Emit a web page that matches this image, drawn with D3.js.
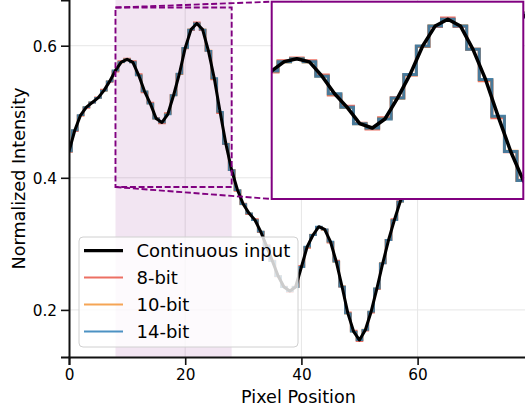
<!DOCTYPE html>
<html>
<head>
<meta charset="utf-8">
<script src="https://cdn.jsdelivr.net/npm/d3@7"></script>
<style>
  body { margin: 0; background: #fff; }
  text { font-family: "DejaVu Sans", sans-serif; fill: #000; }
</style>
</head>
<body>
<svg id="chart" width="525" height="412"></svg>
<script>
// ---- data ---------------------------------------------------------------
// Pixel positions along the 1-D profile
const pixelPosition = d3.range(0, 80);

// Continuous (analog) intensity sampled at each pixel
const continuousInput = [
  0.4400, 0.4720, 0.4950, 0.5070, 0.5140, 0.5210, 0.5320, 0.5460, 0.5625, 0.5752,
  0.5793, 0.5749, 0.5552, 0.5309, 0.5123, 0.4898, 0.4838, 0.4962, 0.5250, 0.5576,
  0.5967, 0.6244, 0.6337, 0.6244, 0.5922, 0.5507, 0.4999, 0.4514, 0.4115, 0.3815,
  0.3600, 0.3462, 0.3361, 0.3184, 0.2967, 0.2740, 0.2513, 0.2347, 0.2286, 0.2347,
  0.2650, 0.2957, 0.3134, 0.3260, 0.3220, 0.3033, 0.2730, 0.2351, 0.1948, 0.1670,
  0.1544, 0.1696, 0.1973, 0.2327, 0.2706, 0.3058, 0.3361, 0.3638, 0.3880, 0.4100,
  0.4300, 0.4480, 0.4630, 0.4740, 0.4820, 0.4880, 0.4940, 0.5020, 0.5120, 0.5250,
  0.5400, 0.5550, 0.5700, 0.5850, 0.6000, 0.6130, 0.6240, 0.6340, 0.6420, 0.6500
];

// Digitised codes for each converter depth
const codes8bit = [
  112, 120, 126, 129, 131, 133, 136, 139, 143, 147,
  148, 147, 142, 135, 131, 125, 123, 127, 134, 142,
  152, 159, 162, 159, 151, 140, 127, 115, 105, 97,
  92, 88, 86, 81, 76, 70, 64, 60, 58, 60,
  68, 75, 80, 83, 82, 77, 70, 60, 50, 43,
  39, 43, 50, 59, 69, 78, 86, 93, 99, 105,
  110, 114, 118, 121, 123, 124, 126, 128, 131, 134,
  138, 142, 145, 149, 153, 156, 159, 162, 164, 166
];
const codes10bit = [
  450, 483, 506, 519, 526, 533, 544, 559, 575, 588,
  593, 588, 568, 543, 524, 501, 495, 508, 537, 570,
  610, 639, 648, 639, 606, 563, 511, 462, 421, 390,
  368, 354, 344, 326, 304, 280, 257, 240, 234, 240,
  271, 302, 321, 333, 329, 310, 279, 241, 199, 171,
  158, 174, 202, 238, 277, 313, 344, 372, 397, 419,
  440, 458, 474, 485, 493, 499, 505, 514, 524, 537,
  552, 568, 583, 598, 614, 627, 638, 649, 657, 665
];
const codes14bit = [
  7209, 7733, 8110, 8306, 8421, 8536, 8716, 8945, 9215, 9424,
  9491, 9419, 9096, 8698, 8393, 8024, 7926, 8129, 8601, 9135,
  9776, 10230, 10382, 10230, 9702, 9022, 8190, 7395, 6742, 6250,
  5898, 5672, 5506, 5216, 4861, 4489, 4117, 3845, 3745, 3845,
  4341, 4844, 5134, 5341, 5275, 4969, 4473, 3852, 3191, 2736,
  2530, 2779, 3232, 3812, 4433, 5010, 5506, 5960, 6357, 6717,
  7045, 7340, 7585, 7766, 7897, 7995, 8093, 8224, 8388, 8601,
  8847, 9093, 9338, 9584, 9830, 10043, 10223, 10387, 10518, 10649
];

const seriesLabels = ["Continuous input", "8-bit", "10-bit", "14-bit"];
const bitDepths = [8, 10, 14];
const xTicks = [0, 20, 40, 60];
const yTicks = [0.2, 0.4, 0.6];
const xDomain = [0, 79];
const yDomain = [0.1287, 0.6692];
const zoomX = [8, 28];
const zoomY = [0.386, 0.6578];

// ---- styling ------------------------------------------------------------
const stepColors = ["#e74c3c", "#f28e2b", "#1f77b4"];
const purple = "#800080";
const font = '"DejaVu Sans", sans-serif';

// ---- layout -------------------------------------------------------------
const svg = d3.select("#chart");
const plot = { left: 69, right: 528, top: 0, bottom: 357 };
const inset = { left: 271.7, right: 523.3, top: 1.7, bottom: 199 };

const x = d3.scaleLinear(xDomain, [plot.left, plot.right]);
const y = d3.scaleLinear(yDomain, [plot.bottom, plot.top]);
const xi = d3.scaleLinear(zoomX, [inset.left, inset.right]);
const yi = d3.scaleLinear(zoomY, [inset.bottom, inset.top]);

const quantised = [codes8bit, codes10bit, codes14bit].map((codes, i) =>
  codes.map(c => c / (Math.pow(2, bitDepths[i]) - 1)));

const defs = svg.append("defs");
defs.append("clipPath").attr("id", "clip-main").append("rect")
  .attr("x", plot.left).attr("y", plot.top)
  .attr("width", plot.right - plot.left).attr("height", plot.bottom - plot.top);
defs.append("clipPath").attr("id", "clip-inset").append("rect")
  .attr("x", inset.left).attr("y", inset.top)
  .attr("width", inset.right - inset.left).attr("height", inset.bottom - inset.top);

// ---- grid ---------------------------------------------------------------
const grid = svg.append("g").attr("clip-path", "url(#clip-main)");
grid.selectAll("line.gx").data(xTicks).join("line")
  .attr("x1", d => x(d)).attr("x2", d => x(d))
  .attr("y1", plot.top).attr("y2", plot.bottom)
  .attr("stroke", "#e6e6e6").attr("stroke-width", 1);
grid.selectAll("line.gy").data(yTicks).join("line")
  .attr("x1", plot.left).attr("x2", plot.right)
  .attr("y1", d => y(d)).attr("y2", d => y(d))
  .attr("stroke", "#e6e6e6").attr("stroke-width", 1);

// ---- zoom window shading -------------------------------------------------
svg.append("rect")
  .attr("x", x(zoomX[0])).attr("y", plot.top)
  .attr("width", x(zoomX[1]) - x(zoomX[0])).attr("height", plot.bottom - plot.top)
  .attr("fill", purple).attr("fill-opacity", 0.1);

// ---- series drawing helper ----------------------------------------------
function drawSeries(g, sx, sy, stepWidth, curveWidth) {
  quantised.forEach((vals, i) => {
    const line = d3.line()
      .x((d, j) => sx(pixelPosition[j]))
      .y(d => sy(d))
      .curve(d3.curveStep);
    g.append("path").datum(vals)
      .attr("d", line)
      .attr("fill", "none")
      .attr("stroke", stepColors[i])
      .attr("stroke-opacity", 0.8)
      .attr("stroke-width", stepWidth);
  });
  const cont = d3.line()
    .x((d, j) => sx(pixelPosition[j]))
    .y(d => sy(d));
  g.append("path").datum(continuousInput)
    .attr("d", cont)
    .attr("fill", "none")
    .attr("stroke", "#000")
    .attr("stroke-width", curveWidth)
    .attr("stroke-linejoin", "round");
}

// main panel
const main = svg.append("g").attr("clip-path", "url(#clip-main)");
drawSeries(main, x, y, 1.8, 3);

// dashed zoom window outline and connectors
const dash = "6,2.7";
const dashWidth = 1.9;
svg.append("rect")
  .attr("x", x(zoomX[0])).attr("y", y(zoomY[1]))
  .attr("width", x(zoomX[1]) - x(zoomX[0]))
  .attr("height", y(zoomY[0]) - y(zoomY[1]))
  .attr("fill", "none").attr("stroke", purple)
  .attr("stroke-width", dashWidth).attr("stroke-dasharray", dash);
svg.append("line")
  .attr("x1", x(zoomX[0])).attr("y1", y(zoomY[1]))
  .attr("x2", inset.left).attr("y2", inset.top)
  .attr("stroke", purple).attr("stroke-width", dashWidth).attr("stroke-dasharray", dash);
svg.append("line")
  .attr("x1", x(zoomX[0])).attr("y1", y(zoomY[0]))
  .attr("x2", inset.left).attr("y2", inset.bottom)
  .attr("stroke", purple).attr("stroke-width", dashWidth).attr("stroke-dasharray", dash);

// ---- inset ---------------------------------------------------------------
svg.append("rect")
  .attr("x", inset.left).attr("y", inset.top)
  .attr("width", inset.right - inset.left).attr("height", inset.bottom - inset.top)
  .attr("fill", "#fff");
const insetG = svg.append("g").attr("clip-path", "url(#clip-inset)");
drawSeries(insetG, xi, yi, 3, 3.5);
svg.append("rect")
  .attr("x", inset.left).attr("y", inset.top)
  .attr("width", inset.right - inset.left).attr("height", inset.bottom - inset.top)
  .attr("fill", "none").attr("stroke", purple).attr("stroke-width", 2);

// ---- axes ---------------------------------------------------------------
const xAxis = svg.append("g")
  .attr("transform", `translate(0,${plot.bottom})`)
  .call(d3.axisBottom(x).tickValues(xTicks).tickFormat(d3.format("d"))
        .tickSizeOuter(0).tickSize(8).tickPadding(4));
const yAxis = svg.append("g")
  .attr("transform", `translate(${plot.left},0)`)
  .call(d3.axisLeft(y).tickValues(yTicks).tickFormat(d3.format(".1f"))
        .tickSizeOuter(0).tickSize(8).tickPadding(4));
[xAxis, yAxis].forEach(a => {
  a.select(".domain").attr("stroke", "#111").attr("stroke-width", 2);
  a.selectAll(".tick line").attr("stroke", "#111").attr("stroke-width", 1.6);
  a.selectAll(".tick text").attr("font-family", font).attr("font-size", 15.3).attr("fill", "#111");
});
yAxis.selectAll(".tick text").attr("dy", "0.36em");

svg.append("text")
  .attr("x", (plot.left + plot.right) / 2).attr("y", 403)
  .attr("text-anchor", "middle").attr("font-size", 17.6)
  .text("Pixel Position");
svg.append("text")
  .attr("transform", `translate(25,${(plot.top + plot.bottom) / 2}) rotate(-90)`)
  .attr("text-anchor", "middle").attr("font-size", 17.6)
  .text("Normalized Intensity");

// ---- legend -------------------------------------------------------------
const legend = svg.append("g");
legend.append("rect")
  .attr("x", 79).attr("y", 237).attr("width", 219).attr("height", 110)
  .attr("rx", 4).attr("fill", "#fff").attr("fill-opacity", 0.8)
  .attr("stroke", "#d0d0d0").attr("stroke-width", 1);
const legendColors = ["#000"].concat(stepColors);
seriesLabels.forEach((label, i) => {
  const cy = 250.7 + i * 26.9;
  legend.append("line")
    .attr("x1", 84).attr("x2", 123).attr("y1", cy).attr("y2", cy)
    .attr("stroke", legendColors[i])
    .attr("stroke-opacity", i === 0 ? 1 : 0.8)
    .attr("stroke-width", i === 0 ? 3.3 : 2);
  legend.append("text")
    .attr("x", 136.5).attr("y", cy + 6.4)
    .attr("font-size", 18)
    .text(label);
});
</script>
</body>
</html>
